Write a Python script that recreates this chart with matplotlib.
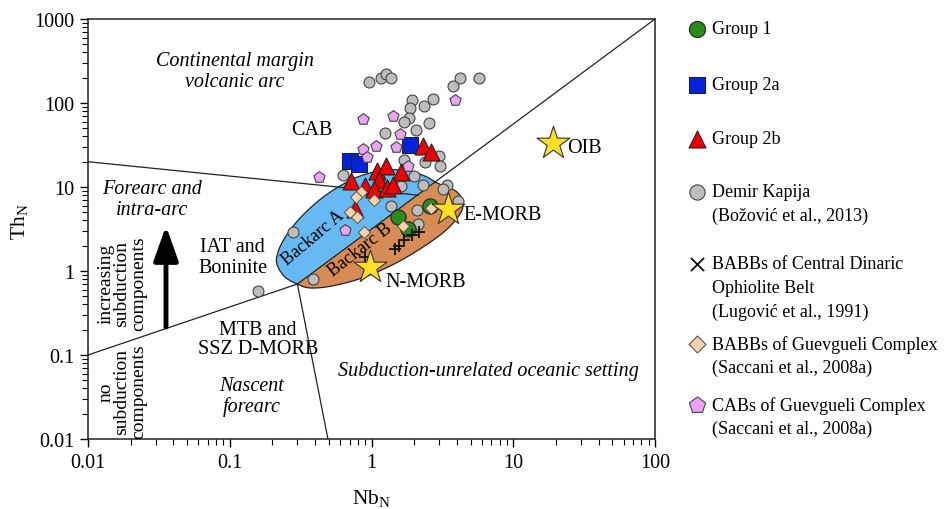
import numpy as np
import matplotlib
matplotlib.use("Agg")
import matplotlib.pyplot as plt
from matplotlib.patches import Polygon
from matplotlib.ticker import LogLocator, NullFormatter, FuncFormatter

plt.rcParams['font.family'] = ['Liberation Serif', 'DejaVu Serif']
plt.rcParams['mathtext.fontset'] = 'custom'
plt.rcParams['mathtext.rm'] = 'Liberation Serif'
plt.rcParams['mathtext.it'] = 'Liberation Serif:italic'

# ---------------- data (Nb_N, Th_N) ----------------
group1_nb = [1.54, 1.81, 2.59]
group1_th = [4.39, 3.16, 5.94]

group2a_nb = [0.705, 0.817, 1.87]
group2a_th = [20.4, 18.8, 31.6]

group2b_nb = [2.31, 2.63, 0.716, 1.094, 1.265, 1.615, 0.899, 1.13, 1.042, 1.286, 1.419, 0.765]
group2b_th = [30.8, 26.1, 11.8, 15.5, 17.8, 15.1, 10.3, 12.1, 9.47, 9.73, 10.6, 5.47]

demir_nb = [0.959, 1.167, 1.265, 1.374, 4.21, 5.73, 3.76, 1.93, 2.72, 2.34, 1.87, 1.84,
            1.695, 2.55, 2.06, 1.245, 2.99, 2.38, 3.04, 1.695, 0.630, 1.995, 2.31, 1.615,
            3.41, 3.19, 1.374, 0.279, 0.387, 2.09, 4.07, 2.13, 0.158]
demir_th = [178, 199, 221, 199, 199, 199, 159, 109, 112, 92, 87, 66,
            59.4, 57.8, 47.7, 44, 23.4, 19.9, 17.8, 20.9, 13.9, 13.5, 10.6, 10.3,
            10.6, 9.47, 5.94, 2.91, 0.80, 5.32, 6.81, 3.63, 0.58]

cdob_nb = [0.899, 1.466, 1.563, 1.695, 1.93, 2.16]
cdob_th = [1.47, 1.83, 1.99, 2.34, 2.68, 2.91]

guev_babb_nb = [0.843, 0.778, 1.042, 0.705, 0.791, 0.885, 1.668, 2.63]
guev_babb_th = [8.71, 7.60, 7.0, 5.04, 4.39, 2.91, 3.43, 5.62]

guev_cab_nb = [0.871, 1.419, 3.88, 1.589, 0.871, 1.076, 1.489, 0.929, 1.808, 0.426, 0.650]
guev_cab_th = [64.5, 70, 109, 42.8, 28.3, 30.8, 29.9, 22.8, 17.8, 13.2, 3.08]

ref_names = ['N-MORB', 'E-MORB', 'OIB']
ref_nb = [0.98, 3.47, 19.1]
ref_th = [1.12, 5.47, 33.4]

# field boundaries
diag_nb = [0.3, 100]
diag_th = [0.7, 1000]
low_nb = [0.01, 0.3]
low_th = [0.1, 0.7]
upper_nb = [0.01, 2.13]
upper_th = [20, 8.0]
vert_nb = [0.3, 0.493]
vert_th = [0.7, 0.01]

# back-arc field outline
field_nb = [0.30, 0.245, 0.215, 0.219, 0.242, 0.284, 0.351, 0.448, 0.600, 0.830, 1.245,
            1.81, 2.38, 2.90, 3.41, 4.01, 4.42, 4.21, 3.30, 2.20, 1.40, 0.857, 0.526, 0.368]
field_th = [0.70, 0.849, 1.21, 1.68, 2.40, 3.53, 5.18, 7.40, 10.3, 13.5, 15.9,
            15.5, 13.5, 11.2, 10.0, 8.71, 6.63, 4.77, 2.99, 1.83, 1.18, 0.826, 0.663, 0.628]

xticks = [0.01, 0.1, 1, 10, 100]
yticks = [0.01, 0.1, 1, 10, 100, 1000]

FS = 14.5
LFS = 13.0


def smooth_closed(xs, ys, n=16):
    pts = np.column_stack([np.log10(xs), np.log10(ys)])
    N = len(pts)
    t = np.linspace(0, 1, n, endpoint=False)[:, None]
    out = []
    for i in range(N):
        p0, p1, p2, p3 = pts[(i - 1) % N], pts[i], pts[(i + 1) % N], pts[(i + 2) % N]
        seg = 0.5 * (2 * p1 + (-p0 + p2) * t + (2 * p0 - 5 * p1 + 4 * p2 - p3) * t ** 2
                     + (-p0 + 3 * p1 - 3 * p2 + p3) * t ** 3)
        out.append(seg)
    out = np.vstack(out)
    return 10 ** out[:, 0], 10 ** out[:, 1]


fig = plt.figure(figsize=(9.44, 5.10), dpi=100)
ax = fig.add_axes([88 / 944, 70 / 510, 567 / 944, 420 / 510])
ax.set_xscale('log')
ax.set_yscale('log')
ax.set_xlim(0.01, 100)
ax.set_ylim(0.01, 1000)

# back-arc fields
sx, sy = smooth_closed(field_nb, field_th)
verts = np.column_stack([sx, sy])
ld = np.log10(diag_nb)
lt = np.log10(diag_th)
slope = (lt[1] - lt[0]) / (ld[1] - ld[0])
y_left = 10 ** (lt[0] + slope * (-3 - ld[0]))
above = Polygon([(0.001, y_left), (100, 1000), (0.001, 1000)], closed=True,
                transform=ax.transData, facecolor='none', edgecolor='none')
below = Polygon([(0.001, y_left), (100, 1000), (1000, 1000), (1000, 0.001), (0.001, 0.001)],
                closed=True, transform=ax.transData, facecolor='none', edgecolor='none')
ax.add_patch(above)
ax.add_patch(below)
blue = Polygon(verts, closed=True, facecolor='#66B9F2', edgecolor='none', zorder=2)
orange = Polygon(verts, closed=True, facecolor='#D78B55', edgecolor='none', zorder=2)
ax.add_patch(blue)
ax.add_patch(orange)
blue.set_clip_path(above)
orange.set_clip_path(below)
ax.add_patch(Polygon(verts, closed=True, facecolor='none', edgecolor='#222222', lw=0.9, zorder=2.5))

# boundary lines
for bx, by in [(diag_nb, diag_th), (low_nb, low_th), (upper_nb, upper_th), (vert_nb, vert_th)]:
    ax.plot(bx, by, color='#222222', lw=0.9, zorder=3)

# data points
ax.scatter(demir_nb, demir_th, s=62, marker='o', facecolor='#BDBDBD', edgecolor='#444444', lw=0.8, zorder=4)
ax.scatter(group2a_nb, group2a_th, s=135, marker='s', facecolor='#0022DD', edgecolor='#222222', lw=0.8, zorder=5)
ax.scatter(group2b_nb, group2b_th, s=150, marker='^', facecolor='#EE0000', edgecolor='#222222', lw=0.8, zorder=6)
ax.scatter(group1_nb, group1_th, s=120, marker='o', facecolor='#2A8A1C', edgecolor='#222222', lw=0.8, zorder=7)
ax.scatter(guev_cab_nb, guev_cab_th, s=72, marker='p', facecolor='#E9A5F2', edgecolor='#444444', lw=0.8, zorder=8)
ax.scatter(cdob_nb, cdob_th, s=70, marker='+', color='#111111', lw=1.3, zorder=8)
ax.scatter(guev_babb_nb, guev_babb_th, s=38, marker='D', facecolor='#FBD2AA', edgecolor='#555555', lw=0.7, zorder=9)
ax.scatter(ref_nb, ref_th, s=620, marker='*', facecolor='#FFE024', edgecolor='#333333', lw=0.8, zorder=10)

# reference labels
ax.text(1.26, 0.74, 'N-MORB', fontsize=FS, ha='left', va='center', zorder=11)
ax.text(4.43, 4.77, 'E-MORB', fontsize=FS, ha='left', va='center', zorder=11)
ax.text(23.9, 29.9, 'OIB', fontsize=FS, ha='left', va='center', zorder=11)

# field labels
ax.text(0.109, 240, 'Continental margin\nvolcanic arc', fontsize=FS, style='italic',
        ha='center', va='center', linespacing=1.1)
ax.text(0.380, 49, 'CAB', fontsize=FS, ha='center', va='center')
ax.text(0.0283, 7.2, 'Forearc and\nintra-arc', fontsize=FS, style='italic',
        ha='center', va='center', linespacing=1.1)
ax.text(0.105, 1.47, 'IAT and\nBoninite', fontsize=FS, ha='center', va='center', linespacing=1.1)
ax.text(0.158, 0.155, 'MTB and\nSSZ D-MORB', fontsize=FS, ha='center', va='center', linespacing=1.0)
ax.text(0.1436, 0.0325, 'Nascent\nforearc', fontsize=FS, style='italic',
        ha='center', va='center', linespacing=1.1)
ax.text(6.64, 0.0646, 'Subduction-unrelated oceanic setting', fontsize=FS, style='italic',
        ha='center', va='center')
ax.text(0.385, 2.50, 'Backarc A', fontsize=13, rotation=40, ha='center', va='center',
        rotation_mode='anchor', zorder=3.5)
ax.text(0.830, 1.83, 'Backarc B', fontsize=13, rotation=38, ha='center', va='center',
        rotation_mode='anchor', zorder=3.5)
ax.text(0.0174, 0.72, 'increasing\nsubduction\ncomponents', fontsize=14, rotation=90,
        ha='center', va='center', linespacing=0.95)
ax.text(0.0174, 0.0373, 'no\nsubduction\ncomponents', fontsize=14, rotation=90,
        ha='center', va='center', linespacing=0.95)
ax.annotate('', xy=(0.0355, 3.43), xytext=(0.0355, 0.215),
            arrowprops=dict(arrowstyle='-|>,head_length=0.7,head_width=0.25', lw=3.5,
                            color='black', mutation_scale=30, shrinkA=0, shrinkB=0))

# axes styling
ax.set_xticks(xticks)
ax.set_yticks(yticks)
ax.xaxis.set_minor_locator(LogLocator(base=10, subs=np.arange(2, 10), numticks=20))
ax.yaxis.set_minor_locator(LogLocator(base=10, subs=np.arange(2, 10), numticks=20))
ax.xaxis.set_major_formatter(FuncFormatter(lambda v, p: '%g' % v))
ax.yaxis.set_major_formatter(FuncFormatter(lambda v, p: '%g' % v))
ax.xaxis.set_minor_formatter(NullFormatter())
ax.yaxis.set_minor_formatter(NullFormatter())
ax.tick_params(which='major', direction='out', length=6, width=1.0, labelsize=FS, pad=4)
ax.tick_params(which='minor', direction='out', length=4, width=0.8)
for sp in ax.spines.values():
    sp.set_linewidth(1.1)
    sp.set_color('#222222')
ax.set_xlabel('Nb$_\\mathrm{N}$', fontsize=FS + 1)
ax.set_ylabel('Th$_\\mathrm{N}$', fontsize=FS + 1)
ax.xaxis.set_label_coords(0.5, -0.115)
ax.yaxis.set_label_coords(-0.103, 0.52)

# legend (manual, figure pixel layout)
lg = fig.add_axes([0, 0, 1, 1], facecolor='none')
lg.set_xlim(0, 944)
lg.set_ylim(510, 0)
lg.axis('off')
legend_entries = [
    ('o', dict(s=135, facecolor='#2A8A1C', edgecolor='#222222', lw=0.8), ['Group 1'], 30),
    ('s', dict(s=135, facecolor='#0022DD', edgecolor='#222222', lw=0.8), ['Group 2a'], 86),
    ('^', dict(s=150, facecolor='#EE0000', edgecolor='#222222', lw=0.8), ['Group 2b'], 140),
    ('o', dict(s=120, facecolor='#BDBDBD', edgecolor='#444444', lw=0.8),
     ['Demir Kapija', '(Božović et al., 2013)'], 193),
    ('x', dict(s=90, color='#111111', lw=1.3),
     ['BABBs of Central Dinaric', 'Ophiolite Belt', '(Lugović et al., 1991)'], 265),
    ('D', dict(s=75, facecolor='#FBD2AA', edgecolor='#555555', lw=0.8),
     ['BABBs of Guevgueli Complex', '(Saccani et al., 2008a)'], 345),
    ('p', dict(s=150, facecolor='#E9A5F2', edgecolor='#444444', lw=0.8),
     ['CABs of Guevgueli Complex', '(Saccani et al., 2008a)'], 406),
]
for mk, kw, lines, yy in legend_entries:
    lg.scatter([697], [yy], marker=mk, clip_on=False, **kw)
    for i, line in enumerate(lines):
        lg.text(712, yy + i * 23.5, line, fontsize=LFS, ha='left', va='center')

fig.savefig('out.png', dpi=100)
